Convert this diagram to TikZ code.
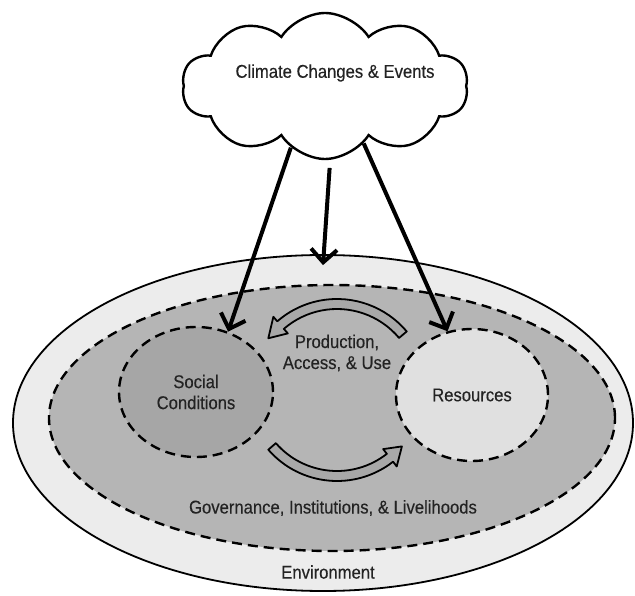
\documentclass[tikz,border=0pt]{standalone}
\usepackage{fontspec}
\setmainfont{Liberation Sans}[FakeStretch=0.9, FakeBold=0.3]
\usetikzlibrary{shapes.geometric, shapes.symbols, arrows.meta}

\definecolor{envGray}{RGB}{236,236,236}
\definecolor{govGray}{RGB}{181,181,181}
\definecolor{socGray}{RGB}{166,166,166}
\definecolor{resGray}{RGB}{224,224,224}
\definecolor{arcGray}{RGB}{168,168,168}
\definecolor{textGray}{RGB}{35,35,35}

\begin{document}
\begin{tikzpicture}[x=1pt, y=1pt, font=\fontsize{18.5}{21}\selectfont]
	\tikzstyle{zone} = [ellipse, draw=black, text centered, inner sep=0pt, text=textGray]
	\tikzstyle{dashedzone} = [zone, line width=2.4pt, dash pattern=on 10pt off 6pt]
	\tikzstyle{cyclearc} = [draw=black, line width=1.8pt, fill=arcGray, line join=round]
	\tikzstyle{caption} = [text=textGray, align=center]
	\tikzstyle{arrow} = [line width=4pt, -{Straight Barb[length=13pt, width=26pt]}]
	\useasboundingbox (0,0) rectangle (635,595);
	\node (environment) [zone, fill=envGray, line width=1.8pt, minimum width=620pt, minimum height=336pt] at (323,172) {};
	\node (governance) [dashedzone, fill=govGray, minimum width=566pt, minimum height=266pt] at (332,177) {};
	\node (social) [dashedzone, fill=socGray, minimum width=154pt, minimum height=130pt, align=center] at (196,203) {Social\\Conditions};
	\node (resources) [dashedzone, fill=resGray, minimum width=152pt, minimum height=132pt] at (472,200) {Resources};
	% production cycle
	\draw [cyclearc, shift={(337,205)}] (40:91pt) arc[start angle=40, end angle=131, radius=91pt] -- (131:97pt) -- (143:86pt) -- (131:75pt) -- (131:81pt) arc[start angle=131, end angle=40, radius=81pt] -- cycle;
	\draw [cyclearc, shift={(337,205)}] (221:91pt) arc[start angle=221, end angle=308, radius=91pt] -- (308:97pt) -- (319:86pt) -- (308:75pt) -- (308:81pt) arc[start angle=308, end angle=221, radius=81pt] -- cycle;
	\node (production) [caption] at (337,242) {Production,\\Access, \& Use};
	\node (governanceLabel) [caption] at (333,87) {Governance, Institutions, \& Livelihoods};
	\node (environmentLabel) [caption] at (328,23) {Environment};
	% climate
	\node (climate) [cloud, cloud puffs=10, cloud puff arc=115, aspect=2, draw, line width=2.4pt, fill=white, minimum width=286pt, minimum height=146pt] at (325,509) {};
	\node (climateLabel) [caption] at (335,522) {Climate Changes \& Events};
	\draw [arrow] (climate.241) -- (social.62);
	\draw [arrow, shorten <=8pt] (climate.274) -- ([yshift=-11pt]environment.north);
	\draw [arrow] (climate.304) -- (resources.111);
\end{tikzpicture}
\end{document}
